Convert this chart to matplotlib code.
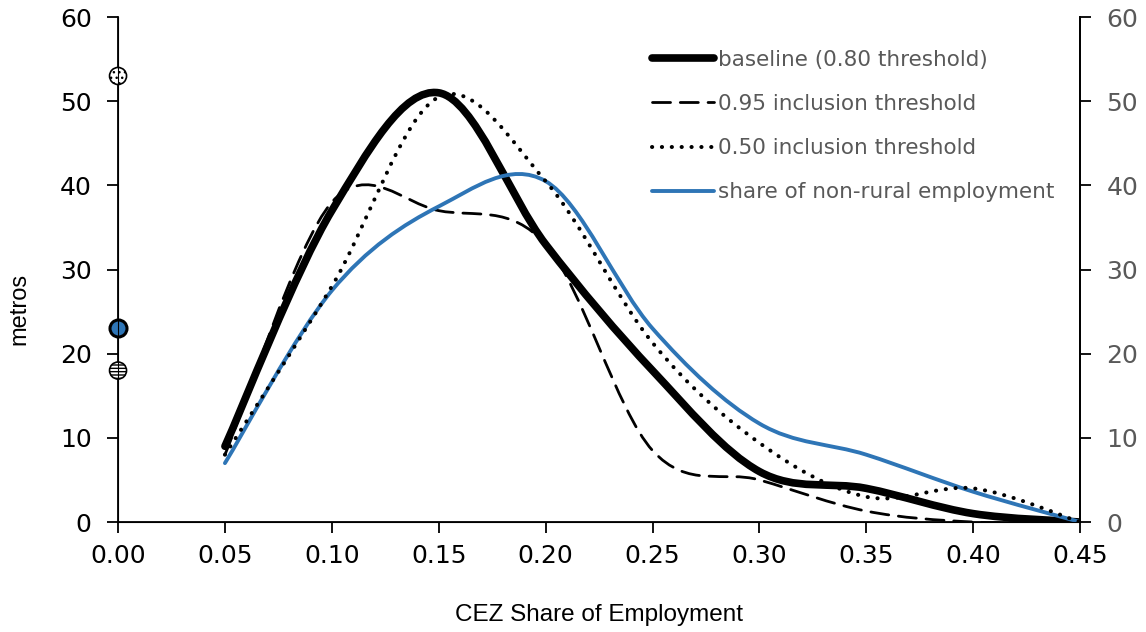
import matplotlib
matplotlib.use("Agg")
import matplotlib.pyplot as plt
import numpy as np
from matplotlib.path import Path
from matplotlib.patches import PathPatch
from matplotlib.lines import Line2D

# data (Excel smoothed lines)
share = [0.05, 0.10, 0.15, 0.20, 0.25, 0.30, 0.35, 0.40, 0.45]
baseline = [9.0, 37.0, 51.0, 33.0, 18.0, 6.0, 4.0, 1.0, 0.0]
incl_95 = [8.0, 38.0, 37.0, 33.0, 8.5, 5.0, 1.3, 0.0, 0.0]
incl_50 = [8.0, 28.0, 50.5, 40.5, 21.3, 9.4, 3.0, 4.0, 0.0]
nonrural = [7.0, 27.5, 37.5, 40.5, 23.0, 11.7, 8.0, 3.6, 0.0]

# single points sitting on the y axis
pt_x = [0.0, 0.0, 0.0]
pt_y = [53.0, 23.0, 18.0]

labels = ["baseline (0.80 threshold)", "0.95 inclusion threshold",
          "0.50 inclusion threshold", "share of non-rural employment"]
blue = "#2E75B6"
gray = "#595959"


def smooth_path(x, y):
    # catmull-rom style bezier like Excel's "smoothed line"
    p = np.column_stack([x, y])
    ext = np.vstack([p[0], p, p[-1]])
    verts = [p[0]]
    codes = [Path.MOVETO]
    for i in range(1, len(ext) - 2):
        p0, p1, p2, p3 = ext[i - 1], ext[i], ext[i + 1], ext[i + 2]
        verts += [p1 + (p2 - p0) / 6, p2 - (p3 - p1) / 6, p2]
        codes += [Path.CURVE4] * 3
    return Path(verts, codes)


fig = plt.figure(figsize=(11.46, 6.32), dpi=100)
ax = fig.add_axes([0.103, 0.174, 0.8395, 0.799])

styles = [
    dict(color="black", lw=5.5, ls="-", z=2),
    dict(color="black", lw=2.0, ls=(0, (6.5, 3.5)), z=1),
    dict(color="black", lw=2.9, ls=(0, (0.05, 2.4)), z=4),
    dict(color=blue, lw=2.8, ls="-", z=3),
]
series = [baseline, incl_95, incl_50, nonrural]
handles = []
for ys, st, lab in zip(series, styles, labels):
    patch = PathPatch(smooth_path(share, ys), fill=False, edgecolor=st["color"],
                      lw=st["lw"], ls=st["ls"], zorder=st["z"])
    patch.set_capstyle("round")
    patch.set_joinstyle("round")
    ax.add_patch(patch)
    handles.append(Line2D([], [], color=st["color"], lw=st["lw"], ls=st["ls"],
                          dash_capstyle="round", solid_capstyle="round", label=lab))

# the three markers on the axis
ax.scatter(pt_x[0], pt_y[0], s=150, facecolor="white", edgecolor="black",
           hatch="...", linewidth=1.2, clip_on=False, zorder=5)
ax.scatter(pt_x[1], pt_y[1], s=150, facecolor=blue, edgecolor="black",
           linewidth=2.2, clip_on=False, zorder=5)
ax.scatter(pt_x[2], pt_y[2], s=150, facecolor="white", edgecolor="black",
           hatch="-----", linewidth=1.2, clip_on=False, zorder=5)

ax.set_xlim(0, 0.45)
ax.set_ylim(0, 60)
ax.set_xticks(np.arange(0, 0.451, 0.05))
ax.set_xticklabels(["%.2f" % v for v in np.arange(0, 0.451, 0.05)])
ax.set_yticks(range(0, 61, 10))
ax.spines["top"].set_visible(False)
for s in ["left", "bottom", "right"]:
    ax.spines[s].set_linewidth(1.3)
ax.tick_params(axis="x", direction="out", length=8, width=1.3, labelsize=18, pad=8)
ax.tick_params(axis="y", direction="out", length=8, width=1.3, labelsize=18, pad=11)

ax2 = ax.twinx()
ax2.set_ylim(0, 60)
ax2.set_yticks(range(0, 61, 10))
ax2.spines["top"].set_visible(False)
ax2.spines["right"].set_linewidth(1.3)
ax2.tick_params(axis="y", direction="out", length=8, width=1.3, labelsize=18,
                pad=11, labelcolor=gray)

ax.set_xlabel("CEZ Share of Employment", family="Liberation Sans", fontsize=17.5,
              labelpad=26)
fig.text(0.017, 0.511, "metros", rotation=90, family="Liberation Sans",
         fontsize=17, ha="center", va="center")

leg = ax.legend(handles=handles, loc="upper left", bbox_to_anchor=(0.555, 0.935),
                frameon=False, fontsize=15.5, handlelength=2.9, handletextpad=0.15,
                labelspacing=1.12, borderpad=0, borderaxespad=0)
for t in leg.get_texts():
    t.set_color(gray)

plt.savefig("out.png", dpi=100)
